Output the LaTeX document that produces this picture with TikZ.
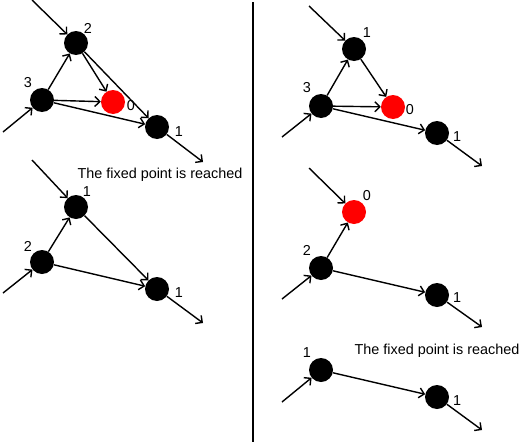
\documentclass[tikz,border=0pt]{standalone}
\usepackage{fontspec}
\setmainfont{Liberation Sans}
\usetikzlibrary{arrows.meta}
\begin{document}
\begin{tikzpicture}[x=1pt,y=-1pt,
  vtx/.style={circle,fill=black,minimum size=24pt,inner sep=0pt},
  hot/.style={circle,fill=red,minimum size=24pt,inner sep=0pt},
  lbl/.style={font=\fontsize{14.4}{16}\selectfont,inner sep=0pt},
  edge/.style={line width=1.4pt,-{Straight Barb[length=5pt,width=10pt,line width=1.4pt]}}]
\useasboundingbox (0,0) rectangle (525,442);

% divider between the two columns
\draw[line width=1.8pt] (253,2) -- (253,442);

% ---- left column, upper graph
\node[vtx] (a2) at (76,43) {};
\node[vtx] (a3) at (42,100) {};
\node[hot] (a0) at (113,102) {};
\node[vtx] (a1) at (157,127) {};
\node[lbl] at (88,28) {2};
\node[lbl] at (28,83) {3};
\node[lbl] at (131,106) {0};
\node[lbl] at (179,132) {1};
\coordinate (ain2) at (32,0);
\coordinate (ain3) at (3,132);
\coordinate (aout) at (203,162);
\draw[edge] (ain2) -- (a2);
\draw[edge] (ain3) -- (a3);
\draw[edge] (a3) -- (a2);
\draw[edge] (a2) -- (a0);
\draw[edge] (a2) -- (a1);
\draw[edge] (a3) -- (a0);
\draw[edge] (a3) -- (a1);
\draw[edge] (a1) -- (aout);

\node[lbl] (msgA) at (160,175) {The fixed point is reached};

% ---- left column, lower graph
\node[vtx] (b1) at (76,207) {};
\node[vtx] (b2) at (42,262) {};
\node[vtx] (b1r) at (157,289) {};
\node[lbl] at (87,192) {1};
\node[lbl] at (28,246) {2};
\node[lbl] at (179,293) {1};
\coordinate (bin1) at (32,160);
\coordinate (bin2) at (3,293);
\coordinate (bout) at (203,323);
\draw[edge] (bin1) -- (b1);
\draw[edge] (bin2) -- (b2);
\draw[edge] (b2) -- (b1);
\draw[edge] (b1) -- (b1r);
\draw[edge] (b2) -- (b1r);
\draw[edge] (b1r) -- (bout);

% ---- right column, upper graph
\node[vtx] (c1) at (354,49) {};
\node[vtx] (c3) at (321,106) {};
\node[hot] (c0) at (393,107) {};
\node[vtx] (c1r) at (437,133) {};
\node[lbl] at (367,33) {1};
\node[lbl] at (307,88) {3};
\node[lbl] at (410,110) {0};
\node[lbl] at (457,137) {1};
\coordinate (cin1) at (309,6);
\coordinate (cin3) at (282,137);
\coordinate (cout) at (482,166);
\draw[edge] (cin1) -- (c1);
\draw[edge] (cin3) -- (c3);
\draw[edge] (c3) -- (c1);
\draw[edge] (c1) -- (c0);
\draw[edge] (c3) -- (c0);
\draw[edge] (c3) -- (c1r);
\draw[edge] (c1r) -- (cout);

% ---- right column, middle graph
\node[hot] (d0) at (354,212) {};
\node[vtx] (d2) at (321,268) {};
\node[vtx] (d1) at (437,295) {};
\node[lbl] at (367,196) {0};
\node[lbl] at (307,250) {2};
\node[lbl] at (457,298) {1};
\coordinate (din0) at (309,168);
\coordinate (din2) at (282,299);
\coordinate (dout) at (482,327);
\draw[edge] (din0) -- (d0);
\draw[edge] (din2) -- (d2);
\draw[edge] (d2) -- (d0);
\draw[edge] (d2) -- (d1);
\draw[edge] (d1) -- (dout);

% ---- right column, lower graph
\node[lbl] (msgB) at (437,351) {The fixed point is reached};
\node[vtx] (e1) at (321,370) {};
\node[vtx] (e1r) at (437,397) {};
\node[lbl] at (307,353) {1};
\node[lbl] at (457,401) {1};
\coordinate (ein1) at (282,402);
\coordinate (eout) at (482,430);
\draw[edge] (ein1) -- (e1);
\draw[edge] (e1) -- (e1r);
\draw[edge] (e1r) -- (eout);
\end{tikzpicture}
\end{document}
